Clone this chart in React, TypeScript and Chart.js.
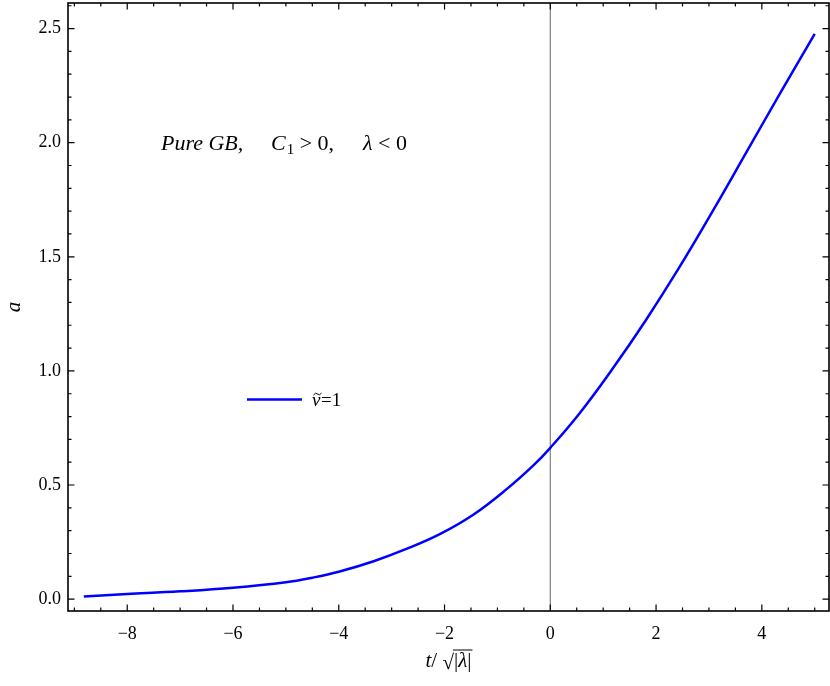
import { useEffect, useRef } from 'react';
import { Chart, registerables } from 'chart.js';

Chart.register(...registerables);

const tValues = [-8.82, -8, -7, -6, -5, -4.5, -4, -3.34, -2.71, -2.08, -1.45, -0.82, -0.32, 0, 0.54, 1.17, 1.8, 2.43, 3.09, 3.72, 4.35, 5];
const aValues = [0.012, 0.022, 0.034, 0.05, 0.074, 0.094, 0.12, 0.166, 0.221, 0.286, 0.371, 0.483, 0.586, 0.663, 0.81, 1.007, 1.22, 1.45, 1.708, 1.963, 2.218, 2.477];
const xMajorTicks = [-8, -6, -4, -2, 0, 2, 4];
const yMajorTicks = [0, 0.5, 1, 1.5, 2, 2.5];
const xMinorStep = 0.5;
const yMinorStep = 0.1;
const seriesLabel = 'ν\u0303=1';

const SERIF = '"Liberation Serif", "DejaVu Serif", serif';

const framePlugin = {
  id: 'frameTicks',
  beforeDatasetsDraw(chart: any) {
    const { ctx, chartArea, scales } = chart;
    const x0 = scales.x.getPixelForValue(0);
    ctx.save();
    ctx.strokeStyle = '#808080';
    ctx.lineWidth = 1.2;
    ctx.beginPath();
    ctx.moveTo(x0, chartArea.top);
    ctx.lineTo(x0, chartArea.bottom);
    ctx.stroke();
    ctx.restore();
  },
  afterDraw(chart: any) {
    const { ctx, chartArea, scales } = chart;
    const { left, right, top, bottom } = chartArea;
    const xs = scales.x;
    const ys = scales.y;
    ctx.save();
    ctx.strokeStyle = '#000';
    ctx.lineWidth = 1.6;
    ctx.strokeRect(left, top, right - left, bottom - top);

    ctx.lineWidth = 1.2;
    ctx.beginPath();
    for (let v = Math.ceil(xs.min / xMinorStep) * xMinorStep; v <= xs.max + 1e-9; v += xMinorStep) {
      const vv = Math.round(v * 100) / 100;
      const isMajor = xMajorTicks.some((m) => Math.abs(m - vv) < 1e-6);
      const len = isMajor ? 6.5 : 3.5;
      const px = xs.getPixelForValue(vv);
      ctx.moveTo(px, bottom);
      ctx.lineTo(px, bottom - len);
      ctx.moveTo(px, top);
      ctx.lineTo(px, top + len);
    }
    for (let v = Math.ceil(ys.min / yMinorStep) * yMinorStep; v <= ys.max + 1e-9; v += yMinorStep) {
      const vv = Math.round(v * 100) / 100;
      const isMajor = yMajorTicks.some((m) => Math.abs(m - vv) < 1e-6);
      const len = isMajor ? 6.5 : 3.5;
      const py = ys.getPixelForValue(vv);
      ctx.moveTo(left, py);
      ctx.lineTo(left + len, py);
      ctx.moveTo(right, py);
      ctx.lineTo(right - len, py);
    }
    ctx.stroke();

    // annotation text
    ctx.fillStyle = '#000';
    ctx.textBaseline = 'alphabetic';
    ctx.textAlign = 'left';
    const base = 149.5;
    ctx.font = `italic 22px ${SERIF}`;
    ctx.fillText('Pure GB,', 161, base);
    ctx.fillText('C', 271, base);
    let cx = 271 + ctx.measureText('C').width;
    ctx.font = `15px ${SERIF}`;
    ctx.fillText('1', cx + 1, base + 4);
    cx += 1 + ctx.measureText('1').width;
    ctx.font = `22px ${SERIF}`;
    ctx.fillText(' > 0,', cx, base);
    ctx.font = `italic 22px ${SERIF}`;
    ctx.fillText('λ', 363, base);
    const lx = 363 + ctx.measureText('λ').width;
    ctx.font = `22px ${SERIF}`;
    ctx.fillText(' < 0', lx, base);

    // legend
    const ds = chart.data.datasets[0];
    ctx.strokeStyle = ds.borderColor;
    ctx.lineWidth = ds.borderWidth;
    ctx.beginPath();
    ctx.moveTo(247, 399.5);
    ctx.lineTo(302, 399.5);
    ctx.stroke();
    ctx.fillStyle = '#000';
    const lbl = String(ds.label);
    const nu = lbl.charAt(0);
    const rest = lbl.slice(2);
    ctx.font = `italic 19px ${SERIF}`;
    ctx.fillText(nu, 312, 406);
    const nw = ctx.measureText(nu).width;
    // tilde over nu
    ctx.strokeStyle = '#000';
    ctx.lineWidth = 1;
    ctx.beginPath();
    const tx = 312 + 1.5;
    const ty = 394;
    ctx.moveTo(tx, ty + 1);
    ctx.quadraticCurveTo(tx + 2, ty - 2, tx + 4, ty);
    ctx.quadraticCurveTo(tx + 6, ty + 2, tx + 8, ty - 1);
    ctx.stroke();
    ctx.font = `19px ${SERIF}`;
    ctx.fillText(rest, 312 + nw + 0.5, 406);

    // y title
    ctx.save();
    ctx.translate(20, 307);
    ctx.rotate(-Math.PI / 2);
    ctx.font = `italic 21px ${SERIF}`;
    ctx.textAlign = 'center';
    ctx.fillText('a', 0, 0);
    ctx.restore();

    // x title: t/ √|λ|
    const tb = 667;
    ctx.font = `italic 21px ${SERIF}`;
    const wT = ctx.measureText('t').width;
    ctx.font = `21px ${SERIF}`;
    const wSl = ctx.measureText('/ ').width;
    const wSq = ctx.measureText('√').width;
    const wBar = ctx.measureText('|').width;
    ctx.font = `italic 21px ${SERIF}`;
    const wL = ctx.measureText('λ').width;
    const total = wT + wSl + wSq + wBar * 2 + wL;
    let px = (left + right) / 2 - total / 2;
    ctx.textAlign = 'left';
    ctx.font = `italic 21px ${SERIF}`;
    ctx.fillText('t', px, tb);
    px += wT;
    ctx.font = `21px ${SERIF}`;
    ctx.fillText('/ ', px, tb);
    px += wSl;
    ctx.fillText('√', px, tb + 2);
    px += wSq;
    const ovStart = px - 1;
    ctx.fillText('|', px, tb);
    px += wBar;
    ctx.font = `italic 21px ${SERIF}`;
    ctx.fillText('λ', px, tb);
    px += wL;
    ctx.font = `21px ${SERIF}`;
    ctx.fillText('|', px, tb);
    px += wBar;
    ctx.strokeStyle = '#000';
    ctx.lineWidth = 1;
    ctx.beginPath();
    ctx.moveTo(ovStart, tb - 17);
    ctx.lineTo(px + 1, tb - 17);
    ctx.stroke();

    ctx.restore();
  },
};

export default function App() {
  const ref = useRef<HTMLCanvasElement | null>(null);
  useEffect(() => {
    if (!ref.current) return;
    const chart = new Chart(ref.current, {
      type: 'line',
      data: {
        datasets: [
          {
            label: seriesLabel,
            data: tValues.map((t, i) => ({ x: t, y: aValues[i] })),
            borderColor: '#0000ff',
            borderWidth: 2.5,
            pointRadius: 0,
            fill: false,
            tension: 0.4,
          },
        ],
      },
      options: {
        animation: false,
        responsive: false,
        maintainAspectRatio: false,
        layout: { padding: { top: 3, right: 1, left: 0, bottom: 0 } },
        plugins: { legend: { display: false }, tooltip: { enabled: false } },
        scales: {
          x: {
            type: 'linear',
            min: -9.12,
            max: 5.27,
            grid: { display: false, drawTicks: false },
            border: { display: false },
            afterBuildTicks: (s: any) => {
              s.ticks = xMajorTicks.map((v) => ({ value: v }));
            },
            afterFit: (s: any) => {
              s.height = 75;
              s.paddingLeft = 0;
              s.paddingRight = 0;
            },
            ticks: {
              padding: 12,
              color: '#000',
              font: { family: SERIF, size: 18 },
              maxRotation: 0,
              callback: (v: any) => String(v).replace('-', '\u2212'),
            },
          },
          y: {
            type: 'linear',
            min: -0.052,
            max: 2.612,
            grid: { display: false, drawTicks: false },
            border: { display: false },
            afterBuildTicks: (s: any) => {
              s.ticks = yMajorTicks.map((v) => ({ value: v }));
            },
            afterFit: (s: any) => {
              s.width = 68;
              s.paddingTop = 0;
              s.paddingBottom = 0;
            },
            ticks: {
              padding: 7,
              color: '#000',
              font: { family: SERIF, size: 18 },
              callback: (v: any) => Number(v).toFixed(1),
            },
          },
        },
      },
      plugins: [framePlugin],
    });
    return () => chart.destroy();
  }, []);
  return (
    <div style={{ position: 'fixed', left: 0, top: 0, width: 830, height: 686, background: '#fff' }}>
      <canvas ref={ref} width={830} height={686} style={{ width: 830, height: 686, display: 'block' }} />
    </div>
  );
}
